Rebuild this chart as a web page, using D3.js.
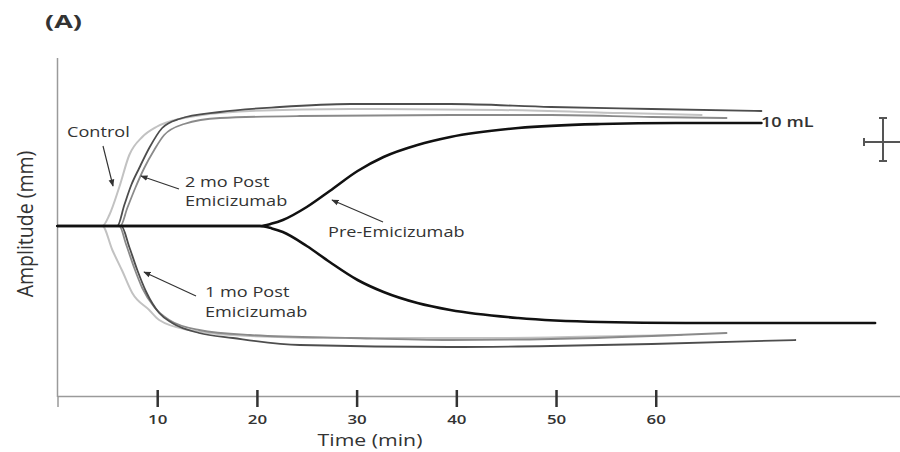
<!DOCTYPE html>
<html>
<head>
<meta charset="utf-8">
<script src="https://cdn.jsdelivr.net/npm/d3@7"></script>
<style>
  html, body { margin: 0; padding: 0; background: #fff; }
  svg { display: block; }
  text { font-family: "Open Sans", "DejaVu Sans", sans-serif; fill: #333; }
</style>
</head>
<body>
<svg id="chart" width="900" height="452"></svg>
<script>
// Thromboelastography traces: [time (min), amplitude (mm)] for the upper and lower arms
const controlUpper = [[0,0],[4.5,0],[5.2,5.5],[6.2,19.5],[7.2,35.5],[8.5,44.5],[9.9,49.5],[12.2,53.5],[19.3,57.5],[29.4,58.5],[44.5,58],[56.5,56.5],[64.6,55.5]];
const controlLower = [[0,0],[4.5,0],[5.5,12],[6.5,22.5],[7.5,33.5],[9.2,42],[10.2,47],[13.2,52],[19.3,55],[29.4,56],[44.5,56],[56.5,55],[62.6,54.5]];

const twoMoUpper = [[0,0],[6.0,0],[6.7,10.5],[7.4,20.5],[8.2,29],[9.2,39],[10.5,49],[12.2,53.5],[16.3,57],[22.3,59.5],[29.4,61],[39.4,61],[49.5,59.5],[59.6,58.5],[70.6,57.5]];
const twoMoLower = [[0,0],[6.4,0],[7.2,10.5],[8.0,22],[8.9,33],[10.2,43.5],[11.5,48.5],[14.2,53.5],[17.6,56],[24.3,59.5],[39.4,60.5],[49.5,60],[59.6,59],[74,57]];

const oneMoUpper = [[0,0],[6.3,0],[7.0,9],[7.8,19],[8.7,29],[9.7,38],[10.7,45.5],[12.7,51],[16.3,54],[24.3,55],[39.4,55.5],[49.5,55.5],[59.6,54.5],[67.1,54]];
const oneMoLower = [[0,0],[6.2,0],[6.9,9.5],[7.7,21],[8.5,31],[9.7,40.5],[11.2,47],[14.2,52],[19.3,54.5],[29.4,56],[39.4,57],[49.5,56.5],[59.6,55],[67.1,53.5]];

const preUpper = [[0,0],[20.3,0],[21.5,1.2],[22.6,3],[25.0,9.5],[27.3,17.5],[30.1,27.5],[32.7,34.5],[36.1,40.5],[39.4,44.5],[46.2,49],[54.5,51],[62,51.5],[70.6,51.5]];
const preLower = [[0,0],[20.3,0],[21.5,1.2],[22.6,3],[25.0,10],[27.3,18],[30.1,27],[32.7,33],[36.1,38.5],[39.4,42],[46.2,46],[54.5,48],[63,48.5],[82,48.5]];

const timeTicks = [10, 20, 30, 40, 50, 60];

const svg = d3.select("#chart");

const x = d3.scaleLinear().domain([0, 85]).range([57.5, 905]);
// half of the amplitude is drawn on each side of the baseline
const y = d3.scaleLinear().domain([-42.5, 42]).range([396, 58]);

// axes
svg.append("line")
  .attr("x1", x(0)).attr("x2", x(0))
  .attr("y1", y(42)).attr("y2", y(-42.5) + 1)
  .attr("stroke", "#9a9a9a").attr("stroke-width", 1.5);

const xAxis = svg.append("g")
  .attr("transform", `translate(0,${y(-42.5)})`)
  .call(d3.axisBottom(x).tickValues(timeTicks).tickSizeOuter(0).tickSize(11).tickFormat(d3.format("d")));
xAxis.select(".domain").attr("stroke", "#9a9a9a").attr("stroke-width", 1.5);
xAxis.selectAll(".tick line").attr("y1", -6).attr("stroke", "#333").attr("stroke-width", 2.5);
xAxis.selectAll(".tick text")
  .attr("y", null).attr("dy", null)
  .attr("transform", "translate(0,28) scale(1.3,1)")
  .style("font-size", "13px").style("font-weight", "600").attr("fill", "#444");

// traces
const upperLine = d3.line().x(d => x(d[0])).y(d => y(d[1] / 2)).curve(d3.curveMonotoneX);
const lowerLine = d3.line().x(d => x(d[0])).y(d => y(-d[1] / 2)).curve(d3.curveMonotoneX);

const traces = [
  { up: controlUpper, low: controlLower, color: "#c2c2c2", w: 2 },
  { up: oneMoUpper,   low: oneMoLower,   color: "#8a8a8a", w: 1.8 },
  { up: twoMoUpper,   low: twoMoLower,   color: "#4d4d4d", w: 1.8 },
  { up: preUpper,     low: preLower,     color: "#111111", w: 2.6 }
];

const tg = svg.append("g").attr("fill", "none").attr("stroke-linejoin", "round").attr("stroke-linecap", "round");
traces.forEach(t => {
  tg.append("path").attr("d", upperLine(t.up)).attr("stroke", t.color).attr("stroke-width", t.w);
  tg.append("path").attr("d", lowerLine(t.low)).attr("stroke", t.color).attr("stroke-width", t.w);
});

// arrow heads
svg.append("defs").append("marker")
  .attr("id", "head").attr("viewBox", "0 0 10 10")
  .attr("refX", 9).attr("refY", 5)
  .attr("markerWidth", 6).attr("markerHeight", 6)
  .attr("orient", "auto")
  .append("path").attr("d", "M0,1 L10,5 L0,9 Z").attr("fill", "#333");

const pointers = [
  [103, 146, 113, 186],
  [179, 189, 141, 176],
  [196, 296, 144, 272],
  [383, 222, 332, 200]
];
svg.selectAll(".pointer").data(pointers).join("line")
  .attr("class", "pointer")
  .attr("x1", d => d[0]).attr("y1", d => d[1])
  .attr("x2", d => d[2]).attr("y2", d => d[3])
  .attr("stroke", "#333").attr("stroke-width", 1.2)
  .attr("marker-end", "url(#head)");

// labels
const labels = [
  { t: "Control",        x: 67,  y: 137 },
  { t: "2 mo Post",      x: 185, y: 187 },
  { t: "Emicizumab",     x: 185, y: 206 },
  { t: "1 mo Post",      x: 205, y: 297 },
  { t: "Emicizumab",     x: 205, y: 317 },
  { t: "Pre-Emicizumab", x: 328, y: 237 },
  { t: "10 mL",          x: 761, y: 127, bold: true }
];
svg.selectAll(".lab").data(labels).join("text")
  .attr("class", "lab")
  .attr("transform", d => `translate(${d.x},${d.y}) scale(1.21,1)`)
  .style("font-size", "15px")
  .style("font-weight", d => d.bold ? "600" : "400")
  .text(d => d.t);

svg.append("text")
  .attr("transform", "translate(45,28) scale(1.5,1)")
  .style("font-size", "18px").style("font-weight", "700").attr("fill", "#222")
  .text("(A)");

svg.append("text")
  .attr("transform", "translate(33,224) rotate(-90) scale(1,1.1)")
  .attr("text-anchor", "middle")
  .style("font-size", "19.5px")
  .text("Amplitude (mm)");

svg.append("text")
  .attr("transform", "translate(370,446) scale(1.33,1)")
  .attr("text-anchor", "middle")
  .style("font-size", "16px")
  .text("Time (min)");

// scale bar
const bar = svg.append("g").attr("stroke", "#555").attr("stroke-width", 2);
bar.append("line").attr("x1", 883).attr("x2", 883).attr("y1", 118).attr("y2", 161);
bar.append("line").attr("x1", 879).attr("x2", 887).attr("y1", 118).attr("y2", 118);
bar.append("line").attr("x1", 879).attr("x2", 887).attr("y1", 161).attr("y2", 161);
bar.append("line").attr("x1", 864).attr("x2", 900).attr("y1", 142).attr("y2", 142);
bar.append("line").attr("x1", 864).attr("x2", 864).attr("y1", 138).attr("y2", 146);
</script>
</body>
</html>
